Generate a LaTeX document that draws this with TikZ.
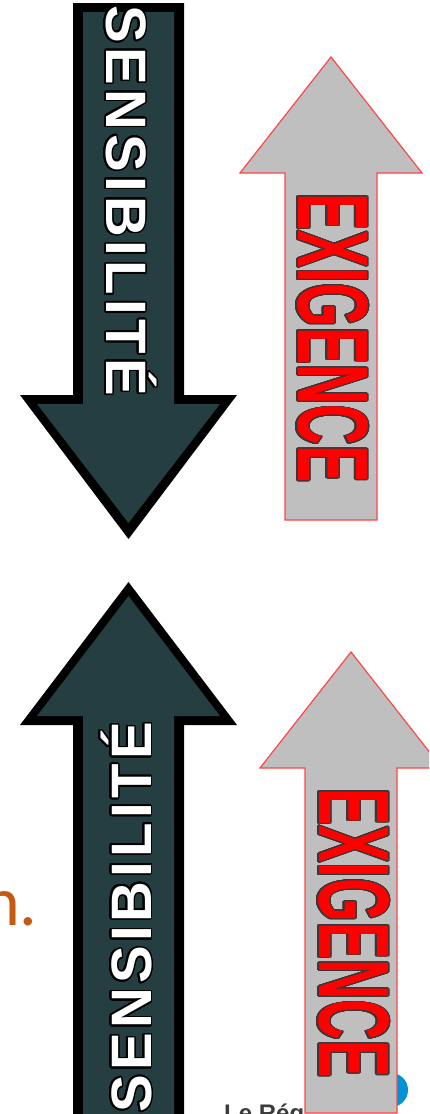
\documentclass[tikz,border=0pt]{standalone}
\usepackage{fontspec}
\usepackage{contour}
\contournumber{32}
\newfontfamily\arialb{Liberation Sans}[BoldFont=* Bold]
\newfontfamily\arialbsp{Liberation Sans}[BoldFont=* Bold, LetterSpace=7.5]
\newfontfamily\carl{Carlito}
\definecolor{darkslate}{RGB}{36,62,66}
\definecolor{arrowgray}{RGB}{191,191,191}
\definecolor{arrowred}{RGB}{255,70,70}
\definecolor{txtred}{RGB}{255,0,0}
\definecolor{txtoutline}{RGB}{55,55,55}
\definecolor{orangec}{RGB}{197,90,17}
\definecolor{logoblue}{RGB}{0,146,214}
\definecolor{logotext}{RGB}{60,60,60}
\tikzset{
  darkouter/.style={fill=black, draw=none},
  darkinner/.style={fill=darkslate, draw=none},
  grayarrow/.style={fill=arrowgray, draw=arrowred, line width=1.2pt, line join=miter},
  vtext/.style={inner sep=0pt, outer sep=0pt},
}
\newcommand{\senstext}{{\contourlength{1.6pt}\scalebox{0.99}[1]{\arialbsp\bfseries\fontsize{57}{57}\selectfont\contour{black}{\textcolor{white}{SENSIBILITÉ}}}}}
\newcommand{\exitext}{{\contourlength{1.2pt}\scalebox{0.558}[1]{\arialb\bfseries\fontsize{100.5}{100.5}\selectfont\contour{txtoutline}{\textcolor{txtred}{EXIGENCE}}}}}
\begin{document}
\begin{tikzpicture}[x=1pt,y=-1pt]
\useasboundingbox (0,0) rectangle (429,1114);
\clip (0,0) rectangle (429,1114);
% background logo pieces (partly hidden)
\fill[logoblue] (391,1090) circle (17);
\node[anchor=base west, inner sep=0pt, text=logotext] (logo) at (224,1121) {\arialb\bfseries\fontsize{24}{24}\selectfont Le Rég};
% orange text
\node[anchor=base west, inner sep=0pt, text=orangec] (ntext) at (-17,925) {\carl\fontsize{70}{70}\selectfont n.};
% top dark arrow (down)
\path[darkouter] (73,3) -- (184,3) -- (184,395) -- (237,395) -- (128.5,539) -- (20,395) -- (73,395) -- cycle;
\path[darkinner] (83,12) -- (174,12) -- (174,404) -- (220,404) -- (128.5,523) -- (37,404) -- (83,404) -- cycle;
% bottom dark arrow (up)
\path[darkouter] (73,1120) -- (73,725) -- (20,725) -- (128.5,582) -- (237,725) -- (184,725) -- (184,1120) -- cycle;
\path[darkinner] (83,1120) -- (83,716) -- (37,716) -- (128.5,596) -- (220,716) -- (174,716) -- (174,1120) -- cycle;
% gray arrows
\path[grayarrow] (285,520) -- (285,173) -- (240,173) -- (331,57) -- (422,173) -- (377,173) -- (377,520) -- cycle;
\path[grayarrow] (305,1113) -- (305,768) -- (260,768) -- (351,652) -- (442,768) -- (397,768) -- (397,1113) -- cycle;
% texts
\node[vtext, rotate=-90, anchor=base west] (s1) at (106,5.5) {\senstext};
\node[vtext, rotate=90, anchor=base west] (s2) at (151,1112.5) {\senstext};
\node[vtext, rotate=-90, anchor=base west] (e1) at (298,193) {\exitext};
\node[vtext, rotate=-90, anchor=base west] (e2) at (319,788) {\exitext};
\end{tikzpicture}
\end{document}
